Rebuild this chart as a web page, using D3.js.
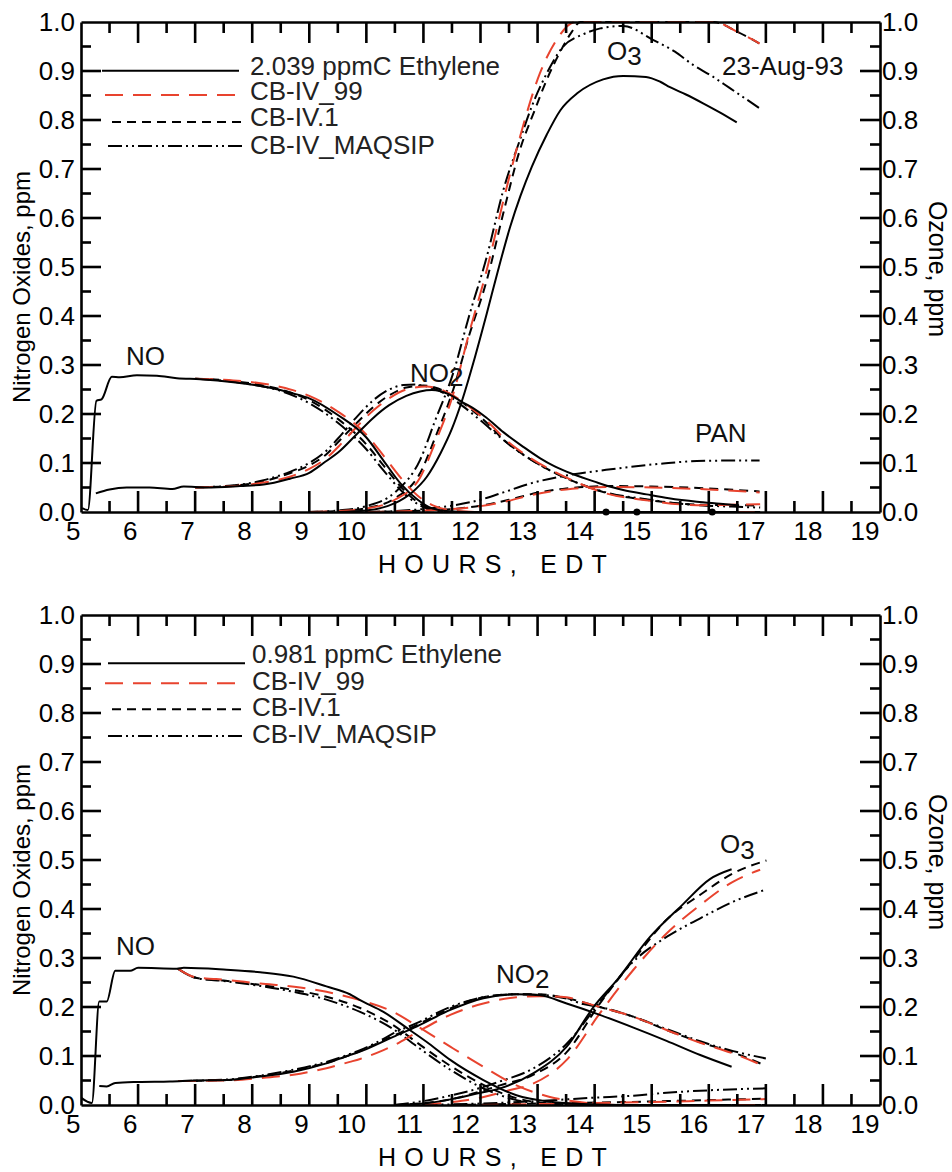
<!DOCTYPE html>
<html><head><meta charset="utf-8">
<script src="https://cdn.jsdelivr.net/npm/d3@7"></script>
<style>
html,body{margin:0;padding:0;background:#fff;}
svg{display:block;font-family:"Liberation Sans",Arial,sans-serif;}
</style></head>
<body><svg id="c" width="952" height="1172"></svg>
<script>
// ---------------- DATA (hour, ppm) ----------------
const hourTicks = [5,6,7,8,9,10,11,12,13,14,15,16,17,18,19];
const hourMinor = [5.5,6.5,7.5,8.5,9.5,10.5,11.5,12.5,13.5,14.5,15.5,16.5,17.5,18.5];
const ppmTicks = [0,0.1,0.2,0.3,0.4,0.5,0.6,0.7,0.8,0.9,1.0];
const ppmMinor = [0.05,0.15,0.25,0.35,0.45,0.55,0.65,0.75,0.85,0.95];
const seriesNames = ["Observed","CB-IV_99","CB-IV.1","CB-IV_MAQSIP"];

// ---- Top panel: 2.039 ppmC Ethylene ----
const topObsNO = [[5.02,0.008],[5.12,0.004],[5.27,0.227],[5.36,0.23],[5.54,0.276],[5.68,0.275],[5.98,0.279],[6.33,0.278],[6.68,0.273],[7.09,0.271],[7.67,0.265],[8.25,0.255],[8.72,0.242],[9.0,0.232],[9.5,0.198],[10.0,0.152],[10.3,0.105],[10.6,0.058],[10.9,0.025],[11.1,0.01],[11.4,0.002],[11.8,0.0],[16.5,0.0]];
const topObsNO2 = [[5.26,0.038],[5.5,0.046],[5.8,0.05],[6.2,0.05],[6.6,0.047],[6.8,0.052],[7.2,0.05],[7.79,0.053],[8.2,0.056],[8.66,0.068],[9.0,0.08],[9.25,0.1],[9.54,0.125],[9.8,0.155],[10.12,0.192],[10.4,0.218],[10.7,0.237],[10.94,0.246],[11.15,0.249],[11.45,0.24],[11.67,0.225],[11.87,0.212],[12.1,0.193],[12.4,0.163],[12.75,0.133],[13.04,0.11],[13.3,0.093],[13.6,0.078],[14.0,0.062],[14.2,0.054],[14.5,0.045],[14.91,0.036],[15.3,0.028],[15.79,0.021],[16.2,0.017],[16.5,0.014]];
const topObsO3 = [[9.5,0.0],[10.0,0.003],[10.5,0.018],[10.8,0.04],[11.06,0.072],[11.3,0.12],[11.5,0.17],[11.67,0.225],[11.9,0.315],[12.11,0.405],[12.3,0.49],[12.52,0.582],[12.7,0.645],[12.9,0.705],[13.16,0.77],[13.4,0.82],[13.7,0.855],[14.15,0.883],[14.5,0.89],[14.9,0.888],[15.15,0.878],[15.32,0.867],[15.6,0.852],[15.9,0.834],[16.2,0.815],[16.49,0.795]];

const top99NO = [[7.0,0.272],[7.5,0.27],[8.0,0.265],[8.5,0.255],[9.0,0.237],[9.5,0.205],[10.0,0.158],[10.3,0.115],[10.6,0.07],[10.9,0.033],[11.2,0.012],[11.5,0.003],[12.0,0.0],[16.9,0.0]];
const top99NO2 = [[7.0,0.05],[7.8,0.054],[8.2,0.06],[8.66,0.072],[9.0,0.088],[9.3,0.11],[9.54,0.137],[9.8,0.17],[10.12,0.207],[10.4,0.232],[10.7,0.25],[11.05,0.256],[11.3,0.25],[11.6,0.232],[11.9,0.206],[12.2,0.176],[12.4,0.152],[12.8,0.116],[13.2,0.088],[13.6,0.065],[14.2,0.038],[14.9,0.024],[15.8,0.014],[16.4,0.015],[16.9,0.016]];
const top99O3 = [[9.0,0.0],[9.5,0.002],[10.0,0.007],[10.5,0.025],[10.94,0.07],[11.2,0.14],[11.52,0.24],[11.8,0.365],[12.11,0.494],[12.4,0.635],[12.69,0.765],[13.04,0.895],[13.33,0.963],[13.66,1.0],[16.08,1.0],[16.5,0.98],[16.89,0.956]];
const top99PAN = [[10.0,0.0],[10.5,0.001],[11.0,0.003],[11.5,0.006],[12.0,0.012],[12.5,0.023],[12.87,0.034],[13.5,0.046],[14.3,0.051],[15.0,0.05],[16.0,0.046],[16.89,0.04]];

const top1NO = [[7.0,0.272],[7.5,0.269],[8.0,0.262],[8.5,0.25],[9.0,0.228],[9.5,0.19],[10.0,0.138],[10.3,0.095],[10.6,0.052],[10.9,0.02],[11.2,0.005],[11.5,0.0],[16.9,0.0]];
const top1NO2 = [[7.0,0.05],[7.8,0.055],[8.2,0.063],[8.66,0.079],[9.0,0.095],[9.3,0.118],[9.54,0.147],[9.8,0.178],[10.12,0.214],[10.4,0.238],[10.7,0.254],[11.0,0.258],[11.2,0.254],[11.5,0.238],[11.8,0.213],[12.1,0.183],[12.4,0.148],[12.8,0.113],[13.2,0.086],[13.6,0.064],[14.2,0.039],[14.9,0.025],[15.8,0.015],[16.4,0.014],[16.9,0.013]];
const top1O3 = [[9.0,0.0],[9.5,0.002],[10.0,0.008],[10.5,0.028],[10.94,0.079],[11.2,0.15],[11.52,0.249],[11.8,0.36],[12.11,0.473],[12.4,0.61],[12.69,0.739],[12.95,0.82],[13.16,0.882],[13.4,0.94],[13.6,0.98],[13.75,1.0],[16.08,1.0],[16.5,0.98],[16.89,0.956]];
const top1PAN = [[10.0,0.0],[10.5,0.001],[11.0,0.003],[11.5,0.006],[12.0,0.013],[12.5,0.025],[12.87,0.036],[13.5,0.048],[14.3,0.053],[15.0,0.052],[16.0,0.048],[16.89,0.042]];

const topMqNO = [[7.0,0.272],[7.5,0.268],[8.0,0.26],[8.5,0.247],[9.0,0.222],[9.5,0.182],[10.0,0.128],[10.3,0.085],[10.6,0.045],[10.9,0.016],[11.2,0.003],[11.5,0.0],[16.9,0.0]];
const topMqNO2 = [[7.0,0.05],[7.8,0.056],[8.2,0.065],[8.66,0.082],[9.0,0.1],[9.3,0.125],[9.54,0.155],[9.8,0.19],[10.12,0.228],[10.4,0.25],[10.65,0.259],[10.85,0.26],[11.1,0.255],[11.4,0.24],[11.7,0.215],[12.0,0.187],[12.4,0.147],[12.8,0.113],[13.2,0.086],[13.6,0.064],[14.2,0.04],[14.9,0.026],[15.8,0.014],[16.4,0.011],[16.9,0.009]];
const topMqO3 = [[9.0,0.0],[9.5,0.003],[10.0,0.012],[10.5,0.04],[10.94,0.106],[11.2,0.185],[11.52,0.283],[11.8,0.4],[12.11,0.521],[12.4,0.657],[12.69,0.759],[12.92,0.834],[13.16,0.895],[13.45,0.95],[13.8,0.975],[14.1,0.987],[14.5,0.992],[15.03,0.963],[15.4,0.94],[15.73,0.912],[16.05,0.89],[16.37,0.865],[16.89,0.824]];
const topMqPAN = [[10.0,0.0],[10.5,0.002],[11.0,0.006],[11.5,0.013],[12.0,0.025],[12.4,0.04],[12.87,0.058],[13.63,0.077],[14.2,0.086],[14.62,0.092],[15.2,0.099],[15.79,0.104],[16.4,0.105],[16.89,0.105]];
const topMarkers = [14.2,14.74,16.06];

// ---- Bottom panel: 0.981 ppmC Ethylene ----
const botObsNO = [[5.0,0.015],[5.19,0.004],[5.32,0.211],[5.45,0.211],[5.6,0.274],[5.86,0.274],[6.0,0.28],[6.68,0.278],[6.8,0.28],[7.55,0.276],[8.14,0.271],[8.72,0.262],[9.3,0.242],[9.71,0.226],[9.89,0.214],[10.3,0.19],[10.76,0.153],[11.1,0.125],[11.47,0.092],[12.05,0.051],[12.63,0.02],[13.2,0.007],[13.8,0.002],[14.5,0.0],[16.4,0.0]];
const botObsNO2 = [[5.32,0.039],[5.45,0.038],[5.6,0.045],[6.0,0.047],[6.56,0.048],[7.0,0.05],[7.55,0.051],[8.14,0.058],[8.72,0.068],[9.3,0.085],[9.71,0.102],[9.89,0.109],[10.3,0.13],[10.47,0.139],[10.88,0.16],[11.47,0.194],[12.05,0.218],[12.63,0.226],[13.04,0.224],[13.51,0.207],[14.09,0.184],[14.68,0.158],[15.26,0.131],[15.85,0.102],[16.4,0.078]];
const botObsO3 = [[10.5,0.0],[11.0,0.003],[11.5,0.012],[12.0,0.025],[12.34,0.034],[12.93,0.065],[13.51,0.119],[13.98,0.2],[14.39,0.255],[14.97,0.343],[15.55,0.41],[16.02,0.461],[16.4,0.481]];

const bot99NO = [[6.7,0.278],[7.03,0.26],[7.37,0.257],[8.14,0.248],[8.84,0.24],[9.3,0.231],[9.89,0.214],[10.47,0.19],[10.88,0.162],[11.47,0.119],[12.05,0.078],[12.63,0.04],[13.2,0.017],[13.8,0.005],[14.5,0.0],[17.0,0.0]];
const bot99NO2 = [[6.7,0.049],[7.55,0.05],[8.14,0.055],[8.84,0.064],[9.3,0.075],[9.71,0.088],[9.89,0.094],[10.3,0.112],[10.47,0.121],[10.88,0.148],[11.47,0.184],[12.05,0.207],[12.63,0.22],[13.04,0.222],[13.51,0.22],[13.8,0.21],[14.09,0.2],[14.68,0.18],[15.26,0.153],[15.85,0.127],[16.43,0.105],[17.0,0.078]];
const bot99O3 = [[11.0,0.0],[11.5,0.006],[12.0,0.015],[12.5,0.03],[12.93,0.044],[13.51,0.092],[14.09,0.187],[14.68,0.276],[15.26,0.35],[15.85,0.408],[16.43,0.456],[16.9,0.48]];
const bot99PAN = [[12.0,0.0],[13.0,0.002],[14.0,0.004],[15.0,0.006],[16.0,0.009],[17.0,0.012]];

const bot1NO = [[6.7,0.278],[7.03,0.259],[7.5,0.254],[8.14,0.245],[8.72,0.235],[9.3,0.221],[9.89,0.198],[10.47,0.163],[10.88,0.128],[11.47,0.08],[12.05,0.041],[12.63,0.014],[13.2,0.003],[13.8,0.0],[17.0,0.0]];
const bot1NO2 = [[6.7,0.049],[7.55,0.051],[8.14,0.059],[8.72,0.07],[9.3,0.086],[9.89,0.11],[10.47,0.141],[10.88,0.163],[11.47,0.197],[12.05,0.22],[12.63,0.226],[13.04,0.226],[13.51,0.218],[14.09,0.2],[14.68,0.18],[15.26,0.153],[15.85,0.128],[16.43,0.107],[17.0,0.08]];
const bot1O3 = [[10.5,0.0],[11.0,0.004],[11.5,0.012],[12.0,0.028],[12.34,0.04],[12.93,0.062],[13.51,0.108],[14.09,0.207],[14.68,0.296],[15.26,0.378],[15.85,0.429],[16.43,0.473],[17.01,0.499]];
const bot1PAN = [[11.5,0.0],[12.5,0.002],[13.5,0.004],[14.5,0.006],[15.26,0.008],[16.0,0.01],[17.0,0.013]];

const botMqNO = [[6.7,0.278],[7.03,0.259],[7.5,0.253],[8.14,0.243],[8.72,0.231],[9.3,0.215],[9.89,0.19],[10.47,0.155],[10.88,0.12],[11.47,0.072],[12.05,0.034],[12.63,0.01],[13.2,0.002],[13.8,0.0],[17.0,0.0]];
const botMqNO2 = [[6.7,0.049],[7.55,0.052],[8.14,0.06],[8.72,0.072],[9.3,0.088],[9.71,0.104],[9.89,0.112],[10.3,0.135],[10.47,0.146],[10.88,0.167],[11.47,0.2],[12.05,0.22],[12.63,0.226],[13.04,0.225],[13.51,0.217],[13.8,0.206],[14.09,0.2],[14.68,0.18],[15.26,0.155],[15.85,0.13],[16.43,0.11],[17.0,0.095]];
const botMqO3 = [[10.5,0.0],[11.0,0.008],[11.5,0.02],[12.0,0.035],[12.34,0.048],[12.93,0.075],[13.51,0.125],[14.09,0.21],[14.68,0.293],[15.26,0.343],[15.85,0.381],[16.43,0.415],[17.01,0.44]];
const botMqPAN = [[11.0,0.0],[12.0,0.003],[13.0,0.008],[14.0,0.015],[14.68,0.019],[15.26,0.025],[16.0,0.03],[17.0,0.034]];
const botMarkers = [];

const legendTop = ["2.039 ppmC Ethylene","CB-IV_99","CB-IV.1","CB-IV_MAQSIP"];
const legendBot = ["0.981 ppmC Ethylene","CB-IV_99","CB-IV.1","CB-IV_MAQSIP"];

// ---------------- STYLES ----------------
const RED = "#e8432e";
const styles = {
  "Observed":     {stroke:"#000", dash:null},
  "CB-IV_99":     {stroke:RED, dash:"18,10"},
  "CB-IV.1":      {stroke:"#000", dash:"9,6"},
  "CB-IV_MAQSIP": {stroke:"#000", dash:"14,4,2,4,2,4"}
};

const svg = d3.select("#c");
const x = d3.scaleLinear().domain([5,19]).range([81,880]);
const FONT = 26;

function panel(cfg){
  const y = d3.scaleLinear().domain([0,1]).range([cfg.y1, cfg.y0]);
  const g = svg.append("g");
  const clipId = "clip"+cfg.id;
  svg.append("clipPath").attr("id",clipId).append("rect")
    .attr("x",81).attr("y",cfg.y0-2).attr("width",799).attr("height",cfg.y1-cfg.y0+2);

  const line = d3.line().x(d=>x(d[0])).y(d=>y(d[1])).curve(d3.curveMonotoneX);
  const lg = g.append("g").attr("clip-path",`url(#${clipId})`);

  const order = [["CB-IV_MAQSIP",cfg.mq],["CB-IV.1",cfg.c1],["CB-IV_99",cfg.c99],["Observed",cfg.obs]];
  order.forEach(([name,arrs])=>{
    arrs.forEach(a=>{
      lg.append("path").datum(a).attr("d",line)
        .attr("fill","none").attr("stroke",styles[name].stroke)
        .attr("stroke-width",2).attr("stroke-dasharray",styles[name].dash)
        .attr("stroke-linejoin","round");
    });
  });

  // markers
  g.selectAll(null).data(cfg.markers).enter().append("circle")
    .attr("cx",d=>x(d)).attr("cy",y(0)).attr("r",3.5).attr("fill","#000");

  // frame + labels via d3 axes
  const styleAxis = sel=>{
    sel.select(".domain").attr("stroke","#000").attr("stroke-width",2.6);
    sel.selectAll("text").attr("font-size",FONT).attr("font-family","Liberation Sans, Arial, sans-serif").attr("fill","#000");
  };
  const bx = g.append("g").attr("transform",`translate(0,${cfg.y1})`)
    .call(d3.axisBottom(x).tickValues(hourTicks).tickSize(0).tickPadding(10).tickFormat(d3.format("d")));
  styleAxis(bx);
  bx.selectAll("text").attr("text-anchor","end").attr("x",-1).attr("dy","0.71em");
  const tx = g.append("g").attr("transform",`translate(0,${cfg.y0})`)
    .call(d3.axisTop(x).tickValues([]).tickSize(0));
  styleAxis(tx);
  const ly = g.append("g").attr("transform",`translate(81,0)`)
    .call(d3.axisLeft(y).tickValues(ppmTicks).tickSize(0).tickPadding(6).tickFormat(d3.format(".1f")));
  styleAxis(ly);
  const ry = g.append("g").attr("transform",`translate(880,0)`)
    .call(d3.axisRight(y).tickValues(ppmTicks).tickSize(0).tickPadding(2).tickFormat(d3.format(".1f")));
  styleAxis(ry);

  // axis titles
  g.append("text").attr("x",378).attr("y",cfg.y1+61).attr("font-size",25)
    .attr("letter-spacing","8.3px").attr("fill","#000").text("HOURS, EDT");
  g.append("text").attr("transform",`translate(30,${(cfg.y0+cfg.y1)/2+20}) rotate(-90)`)
    .attr("text-anchor","middle").attr("font-size",24).attr("fill","#000").text("Nitrogen Oxides, ppm");
  g.append("text").attr("transform",`translate(929,${(cfg.y0+cfg.y1)/2+2}) rotate(90)`)
    .attr("text-anchor","middle").attr("font-size",25).attr("fill","#000").text("Ozone, ppm");

  // legend
  seriesNames.forEach((n,i)=>{
    g.append("line").attr("x1",cfg.legLineX[i][0]).attr("x2",cfg.legLineX[i][1])
      .attr("y1",cfg.legLineY[i]).attr("y2",cfg.legLineY[i])
      .attr("stroke",styles[n].stroke).attr("stroke-width",2).attr("stroke-dasharray",styles[n].dash);
    g.append("text").attr("x",cfg.legTextX).attr("y",cfg.legTextY[i]).attr("font-size",FONT)
      .attr("fill","#222").text(cfg.legend[i]);
  });

  // species labels
  cfg.labels.forEach(l=>{
    const t = g.append("text").attr("x",l.x).attr("y",l.y).attr("font-size",FONT).attr("fill","#111");
    t.append("tspan").text(l.t);
    if(l.sub) t.append("tspan").attr("dy",l.subDy).text(l.sub);
  });

  // tick marks (inward), drawn last on top of everything, positioned by the scales
  const tickG = svg.append("g").attr("class","ticks");
  const TW = 2.6;
  const addV = (vals,len)=>vals.forEach(v=>{
    tickG.append("line").attr("x1",x(v)).attr("x2",x(v)).attr("y1",cfg.y1).attr("y2",cfg.y1-len)
      .attr("stroke","#000").attr("stroke-width",TW);
    tickG.append("line").attr("x1",x(v)).attr("x2",x(v)).attr("y1",cfg.y0).attr("y2",cfg.y0+len)
      .attr("stroke","#000").attr("stroke-width",TW);
  });
  const addH = (vals,len)=>vals.forEach(v=>{
    tickG.append("line").attr("x1",x(5)).attr("x2",x(5)+len).attr("y1",y(v)).attr("y2",y(v))
      .attr("stroke","#000").attr("stroke-width",TW);
    tickG.append("line").attr("x1",x(19)-len).attr("x2",x(19)).attr("y1",y(v)).attr("y2",y(v))
      .attr("stroke","#000").attr("stroke-width",TW);
  });
  addV(hourTicks.slice(1,-1),21); addV(hourMinor,11);
  addH(ppmTicks.slice(1,-1),20); addH(ppmMinor,10);
}

panel({
  id:"top", y0:22, y1:512,
  obs:[topObsNO,topObsNO2,topObsO3],
  c99:[top99NO,top99NO2,top99O3,top99PAN],
  c1:[top1NO,top1NO2,top1O3,top1PAN],
  mq:[topMqNO,topMqNO2,topMqO3,topMqPAN],
  markers:topMarkers,
  legend:legendTop,
  legLineX:[[102,239],[105,243],[112,243],[108,243]],
  legLineY:[70.7,95,122,146],
  legTextX:250, legTextY:[75,100,126,154],
  labels:[
    {t:"NO",x:126,y:365},
    {t:"NO",sub:"2",x:410,y:382,subDy:4},
    {t:"O",sub:"3",x:607,y:60,subDy:5},
    {t:"PAN",x:695,y:442},
    {t:"23-Aug-93",x:722,y:75}
  ]
});
panel({
  id:"bot", y0:615, y1:1105,
  obs:[botObsNO,botObsNO2,botObsO3],
  c99:[bot99NO,bot99NO2,bot99O3,bot99PAN],
  c1:[bot1NO,bot1NO2,bot1O3,bot1PAN],
  mq:[botMqNO,botMqNO2,botMqO3,botMqPAN],
  markers:botMarkers,
  legend:legendBot,
  legLineX:[[108,245],[105,243],[112,243],[108,243]],
  legLineY:[663.3,683.3,709.3,736],
  legTextX:252, legTextY:[663,690,716,743],
  labels:[
    {t:"NO",x:116,y:955},
    {t:"NO",sub:"2",x:496,y:983,subDy:5},
    {t:"O",sub:"3",x:720,y:853,subDy:6}
  ]
});
</script></body></html>
